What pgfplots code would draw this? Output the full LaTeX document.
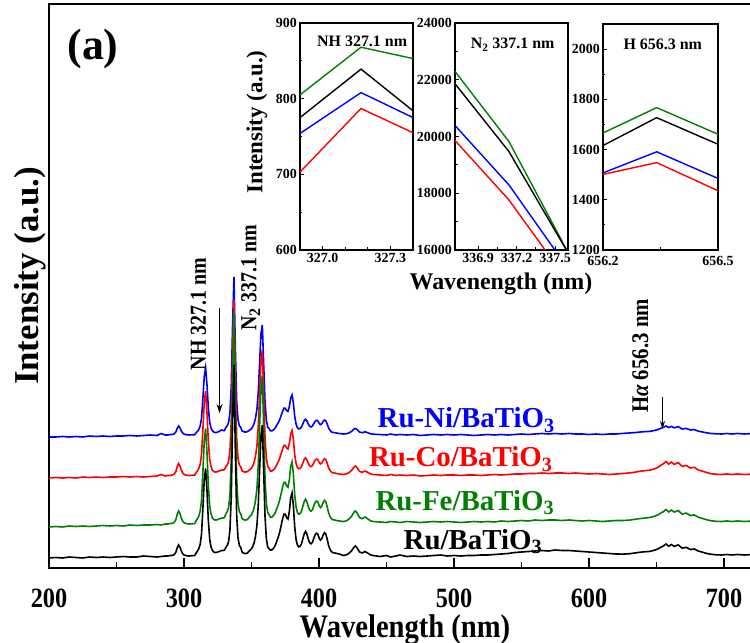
\documentclass[border=0pt]{standalone}
\usepackage{fontspec}
\setmainfont{Liberation Serif}
\newfontfamily\condfont[FakeStretch=0.87]{Liberation Serif}
\usepackage{pgfplots}
\usepackage{pgfplotstable}
\pgfplotsset{compat=1.18}
\usetikzlibrary{arrows.meta}

\definecolor{cBlue}{RGB}{0,0,255}
\definecolor{cRed}{RGB}{255,0,0}
\definecolor{cGreen}{RGB}{0,128,0}

% OES spectra (offset), columns: Ru, Ru-Fe, Ru-Co, Ru-Ni
\pgfplotstableread{
x k g r b
200 10 41 90 131
205 10.5 41.5 90.5 131
210 10 41 90 131.5
215 11 42 90.5 131
220 10.5 41.5 90 131.5
225 10 42 91 131
230 11 41.5 90.5 132
235 10.5 42 91 131.5
240 11 42.5 90.5 132
245 10.5 42 91 131.5
250 11 42.5 91 132
255 11.5 42 91.5 132
260 11 43 91 132.5
265 11 42.5 91.5 132
270 12 43 91 132.5
275 11.5 43 91.5 133
280 11 43.5 92 132.5
283 11.5 43 93.5 134.5
286 12 44 92 133
288 12 44 92.5 133
290 12.5 44.5 92.5 133.5
291 12.5 44.5 93 133.5
292 12.9 45 93.5 133.7
293 13.7 46 94.3 134.4
294 15.9 48.6 96.7 136.2
295 20.3 53.8 101.5 139.8
296 23 57 104.5 142
297 20.8 54.4 102.1 140.2
298 17 49.9 97.9 137.1
299 14.4 46.9 95.1 135
300 13.1 45.3 93.7 134
301 12.6 44.7 93.1 133.5
302 12.2 44.3 92.7 133.2
304 12 44 92.5 133
306 12.3 44.2 92.8 133.2
308 12.5 44.5 93 133.3
309 15.1 47.4 95.5 135.3
310 16.9 49.3 97.2 136.7
311 19.5 52.1 99.7 138.7
312 23.8 56.9 103.9 142
313 34.3 68.3 114 150
314 60 96.5 139 170
315 88.5 127.5 166 191.6
316 99.5 139.5 177 200.3
317 78 116 156 183.5
318 48 83 127 160.5
319 29 62.5 109 146
320 21 54 101.5 140
321 17.7 50.2 98 137.3
322 16 48.5 96.5 136
323 15.5 48 96 135.5
324 15.5 48 96 135.5
325 16 48.5 96.5 136
326 16.5 49 97 136.5
327 17 49.5 97.5 137.5
328 17.5 50 98 138
329 17.5 50 98 137.5
330 18 50.5 98.5 137.5
331 20.6 54.2 101.2 140.7
332 22.5 56.3 102.9 142.2
333 26.3 60.4 106.3 145.3
334 37.6 72.8 116.6 154.6
335 71.4 110.1 147.6 182.5
336 146.6 192.9 216.4 244.5
337 203 255 268 291
338 118.4 161.9 190.6 221.3
339 52.6 89.4 130.4 167
340 30 64.6 109.8 148.4
341 22.5 56.3 102.9 142.2
342 20.6 54.2 101.2 140.7
343 16 49.5 97 137
344 15 48.5 96.5 136.5
345 14.5 48 96 136
346 14.5 48 96 136
347 15 48.5 96.5 136.5
348 16.6 50.4 97.5 137.2
349 17.9 51.9 98.7 138.2
350 19.2 53.3 99.9 139.3
351 21.7 56.2 102.4 141.5
352 25.6 60.6 106.1 144.7
353 32.1 67.8 112.2 150.1
354 42.4 79.4 122.1 158.8
355 63 102.6 141.7 176
356 97.9 141.8 175 205.2
357 132.7 180.9 208.2 234.4
358 143 192.5 218 243
359 97 140 174 204
360 52 90 131 166.5
361 29 64.5 109.5 147.5
362 21 55.5 101.8 140.8
363 19.2 53.3 99.9 139.3
364 18 50.8 97 137.1
365 18 50.8 97 137.1
366 19.2 52 97.9 137.9
367 21.1 53.8 99.2 139.1
368 24.2 56.8 101.4 141
369 27.9 60.4 104.1 143.4
370 31.6 64 106.7 145.7
371 36.6 68.8 110.2 148.8
372 42.8 74.8 114.6 152.7
373 49 80.8 119 156.6
374 53.9 85.6 122.5 159.7
375 53.9 85.6 122.5 159.7
376 50.2 82 119.9 157.4
377 49 80.8 119 156.6
378 56.4 88 124.3 161.3
379 70 101.2 134 169.9
380 75 106 137.5 173
381 62.6 94 128.7 165.2
382 40.9 73 113.3 151.6
383 28.5 61 104.5 143.8
384 22.9 55.6 100.5 140.2
385 21.1 53.8 99.2 139.1
386 21.7 54.4 99.7 139.5
387 24.2 56.8 101.4 141
388 29.1 61.6 104.9 144.1
389 34.1 66.4 108.5 147.3
390 36.6 68.8 110.2 148.8
391 34.1 66.4 108.5 147.3
392 29.1 61.6 104.9 144.1
393 25.4 58 102.3 141.8
394 24.2 56.8 101.4 141
395 25.4 58 102.3 141.8
396 29.1 61.6 104.9 144.1
397 32.8 65.2 107.6 146.5
398 34.7 67 108.9 147.7
399 34.1 66.4 108.5 147.3
400 30.4 62.8 105.8 144.9
401 27.9 60.4 104.1 143.4
402 29.1 61.6 104.9 144.1
403 32.8 65.2 107.6 146.5
404 35.3 67.6 109.3 148
405 34.1 66.4 108.5 147.3
406 29.1 61.6 104.9 144.1
407 22.9 55.6 100.5 140.2
408 19.2 52 97.9 137.9
409 16.7 49.6 96.1 136.3
410 15.5 48.4 95.3 135.6
412 14.9 47.8 94.8 135.2
415 14 47 94 134.5
418 12.5 46.5 93.5 134
420 13 47 94 134.2
422 14.5 48.8 95.2 135
424 17 51.5 97.5 136.5
426 21 56 101 139
427 22 57 102 139.5
428 20.5 55.4 100.6 138.6
430 16 50.4 96.6 135.9
432 15 49.3 95.7 135.3
434 16.5 51 97 136.2
436 15 49.3 95.7 135.3
438 13.2 47.3 94.1 134.2
440 12.5 46.5 93.5 133.8
445 11.5 46 93 133.5
450 12.5 45.5 92.5 133
453 11 46.5 93.5 134
457 12 46 92.5 133
460 13 45.5 93 133.5
465 11.5 46.5 92.5 133
470 12 46 93 133.5
475 11.5 45.5 92 132.5
480 12 46 92.5 133
485 12.5 46.5 93 133.5
490 13 46 92.5 133
495 12 46.5 93 133.5
500 12.5 46 93 133
505 12 45.5 92.5 133.5
510 12.5 46 93 133
515 12.5 46.5 93 132.5
520 13 46 92.5 133
525 13 46.5 93 133.5
530 13.5 46 93.5 133
535 14 47 93 133.5
540 14.5 46.5 93.5 133
545 15.5 47 94 133.5
550 16 47.5 94 134
555 16.5 47 94.5 133.5
560 17 48 94.5 134
565 17.5 47.5 95 134.5
570 17 48 94.5 134
575 18 48 95 134.5
580 17.5 47.5 95 134
585 17.5 48 94.5 134.5
590 17 47.5 95 134
595 16.5 47 94.5 134
600 16 47.5 94 133.5
605 15.5 47 94.5 134
610 15 46.5 94 133.5
615 14.5 47 93.5 134
620 14 47.5 94 134
625 13.9 47.5 94.5 134.6
630 14.3 47.9 95.1 135
634 15 48.7 95.8 135.4
638 15.8 49.5 96.8 136
642 16.3 50.1 97.4 136.4
645 16.6 50.5 97.8 136.6
648 17.6 51.5 99 137.4
651 19 53.1 100.6 138.4
653 20.7 54.9 102.6 139.6
655 22 56.3 104.2 140.6
657 24 58.5 106.5 142
659 21.8 56.1 103.9 140.4
661 23.5 57.9 105.9 141.6
663 21.6 55.9 103.6 140.2
666 23.1 57.5 105.5 141.4
669 19.8 53.9 101.6 139
672 20.7 54.9 102.6 139.6
675 18.5 52.5 100 138
678 19 53.1 100.7 138.4
681 16.9 50.7 98 136.8
684 15.8 49.5 96.8 136
687 14.6 48.3 95.5 135.2
690 13.8 47.3 94.4 134.6
694 13.2 46.7 93.8 134.2
698 13 46.5 93.5 134
702 13.5 47 94 134.5
706 13 46.5 93.5 134
710 13.5 47 94 134.5
715 13 46.5 93.5 134
721 13.5 47 94 134.5
}\spectra

\pgfplotsset{
  inset/.style={
    anchor=south west, scale only axis,
    axis line style={line width=1.2bp},
    tick align=inside, tick pos=left,
    major tick length=4bp, minor tick length=2.5bp,
    every tick/.style={line width=0.9bp, black},
    ticklabel style={font=\bfseries\fontsize{14}{14}\selectfont, inner sep=0pt},
    xticklabel shift=3bp, yticklabel shift=3bp,
    scaled ticks=false,
    clip=true,
  },
  inline/.style={line width=1.4bp},
}

\begin{document}
\begin{tikzpicture}
\useasboundingbox (-49bp,-75bp) rectangle (701bp,568bp);

% main spectrum panel
\begin{axis}[
  at={(0bp,0bp)}, anchor=south west, scale only axis,
  width=703bp, height=564bp,
  xmin=200, xmax=720.7, ymin=0, ymax=564,
  axis line style={line width=2bp},
  xtick={200,300,400,500,600,700},
  xticklabels={200,300,400,500,600,700},
  minor x tick num=1,
  xtick pos=left, ytick=\empty,
  tick align=inside,
  major tick length=10bp, minor tick length=6bp,
  every tick/.style={line width=1.6bp, black},
  xticklabel style={font=\condfont\bfseries\fontsize{28}{28}\selectfont, inner sep=0pt},
  xticklabel shift=21bp,
]
\addplot[cBlue, line width=1.6bp] table[x=x, y=b] {\spectra};
\addplot[cRed, line width=1.6bp] table[x=x, y=r] {\spectra};
\addplot[cGreen, line width=1.6bp] table[x=x, y=g] {\spectra};
\addplot[black, line width=1.6bp] table[x=x, y=k] {\spectra};

\node[font=\bfseries\fontsize{29}{29}\selectfont, text=cBlue, anchor=base, inner sep=0pt] at (axis cs:509,140) {Ru-Ni/BaTiO$_\mathbf{3}$};
\node[font=\bfseries\fontsize{29}{29}\selectfont, text=cRed, anchor=base, inner sep=0pt] at (axis cs:505,101) {Ru-Co/BaTiO$_\mathbf{3}$};
\node[font=\bfseries\fontsize{29}{29}\selectfont, text=cGreen, anchor=base, inner sep=0pt] at (axis cs:508,58) {Ru-Fe/BaTiO$_\mathbf{3}$};
\node[font=\bfseries\fontsize{29}{29}\selectfont, text=black, anchor=base, inner sep=0pt] at (axis cs:514,19) {Ru/BaTiO$_\mathbf{3}$};

\node[rotate=90, font=\condfont\bfseries\fontsize{23}{23}\selectfont, inner sep=0pt] at (axis cs:310.7,254) {NH 327.1 nm};
\node[rotate=90, font=\condfont\bfseries\fontsize{23}{23}\selectfont, inner sep=0pt] at (axis cs:349.3,290) {N$_\mathbf{2}$ 337.1 nm};
\node[rotate=90, font=\condfont\bfseries\fontsize{24}{24}\selectfont, inner sep=0pt] at (axis cs:638,212) {H{\itshape α} 656.3 nm};

\draw[-{Stealth[length=9bp,width=6bp]}, line width=0.8bp] (axis cs:326.3,260) -- (axis cs:326.3,155);
\draw[-{Stealth[length=8bp,width=5bp]}, line width=0.8bp] (axis cs:654.4,171) -- (axis cs:654.4,139);
\end{axis}

\node[font=\bfseries\fontsize{35}{35}\selectfont, rotate=90] at (-19bp,292bp) {Intensity (a.u.)};
\node[font=\condfont\bfseries\fontsize{33}{33}\selectfont, anchor=base] at (356bp,-69bp) {Wavelength (nm)};
\node[font=\bfseries\fontsize{44}{44}\selectfont] at (44bp,519bp) {(a)};

% zoomed windows around the three emission lines
\begin{axis}[inset, at={(251bp,318bp)}, width=113bp, height=227bp,
  xmin=326.9, xmax=327.4, ymin=600, ymax=900,
  xtick={327.0,327.3}, xticklabels={327.0,327.3},
  ytick={600,700,800,900}, yticklabels={600,700,800,900},
  minor y tick num=1, minor x tick num=2]
\addplot[cBlue, inline] coordinates {(326.9,754) (327.17,808) (327.4,775)};
\addplot[cRed, inline] coordinates {(326.9,703) (327.17,787) (327.4,755)};
\addplot[cGreen, inline] coordinates {(326.9,805) (327.17,868) (327.4,853)};
\addplot[black, inline] coordinates {(326.9,775) (327.17,839) (327.4,784)};
\node[font=\bfseries\fontsize{16}{16}\selectfont] at (axis description cs:0.55,0.92) {NH 327.1 nm};
\end{axis}

\begin{axis}[inset, at={(406bp,318bp)}, width=113bp, height=227bp,
  xmin=336.72, xmax=337.6, ymin=16000, ymax=24000,
  xtick={336.9,337.2,337.5}, xticklabels={336.9,337.2,337.5},
  ytick={16000,18000,20000,22000,24000},
  yticklabels={16000,18000,20000,22000,24000},
  minor y tick num=1, minor x tick num=1]
\addplot[cBlue, inline] coordinates {(336.72,20388) (337.14,18294) (337.59,15410)};
\addplot[cRed, inline] coordinates {(336.72,19859) (337.14,17765) (337.59,14946)};
\addplot[cGreen, inline] coordinates {(336.72,22294) (337.14,19824) (337.59,16000)};
\addplot[black, inline] coordinates {(336.72,21859) (337.14,19470) (337.59,15980)};
\node[font=\bfseries\fontsize{16}{16}\selectfont] at (axis description cs:0.51,0.905) {N$_\mathbf{2}$ 337.1 nm};
\end{axis}

\begin{axis}[inset, at={(554bp,318bp)}, width=115bp, height=226bp,
  xmin=656.2, xmax=656.5, ymin=1200, ymax=2100,
  xtick={656.2,656.5}, xticklabels={656.2,656.5},
  ytick={1200,1400,1600,1800,2000},
  yticklabels={1200,1400,1600,1800,2000},
  xticklabel shift=6bp,
  minor y tick num=1, minor x tick num=1]
\addplot[cBlue, inline] coordinates {(656.2,1507) (656.34,1591) (656.5,1485)};
\addplot[cRed, inline] coordinates {(656.2,1501) (656.34,1548) (656.5,1436)};
\addplot[cGreen, inline] coordinates {(656.2,1666) (656.34,1767) (656.5,1661)};
\addplot[black, inline] coordinates {(656.2,1616) (656.34,1727) (656.5,1621)};
\node[font=\bfseries\fontsize{16}{16}\selectfont] at (axis description cs:0.52,0.91) {H 656.3 nm};
\end{axis}

\node[font=\bfseries\fontsize{23}{23}\selectfont, rotate=90] at (208bp,446bp) {Intensity (a.u.)};
\node[font=\bfseries\fontsize{24}{24}\selectfont, anchor=base] at (452bp,278bp) {Wavenength (nm)};
\end{tikzpicture}
\end{document}
